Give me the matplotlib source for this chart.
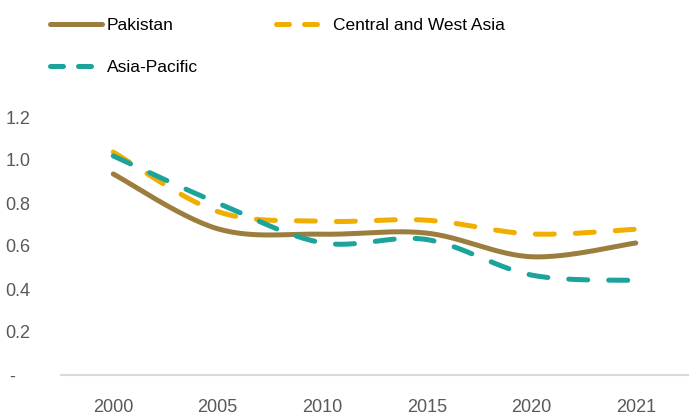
import numpy as np
import matplotlib
matplotlib.use("Agg")
import matplotlib.pyplot as plt
from matplotlib.lines import Line2D

years = ["2000", "2005", "2010", "2015", "2020", "2021"]
pakistan = [0.935, 0.68, 0.655, 0.66, 0.55, 0.614]
central_west_asia = [1.037, 0.76, 0.715, 0.72, 0.656, 0.678]
asia_pacific = [1.019, 0.80, 0.615, 0.63, 0.465, 0.44]

series = [
    ("Pakistan", pakistan, "#9B7E3E", "solid"),
    ("Central and West Asia", central_west_asia, "#F0AE00", "dashed"),
    ("Asia-Pacific", asia_pacific, "#1BA39C", "dashed"),
]


def smooth(x, y, n=30):
    # bezier smoothing like Excel's "smoothed line"
    x = np.asarray(x, float)
    y = np.asarray(y, float)
    px = np.concatenate([[x[0]], x, [x[-1]]])
    py = np.concatenate([[y[0]], y, [y[-1]]])
    xs, ys = [], []
    t = np.linspace(0, 1, n)
    for i in range(1, len(px) - 2):
        p0 = np.array([px[i], py[i]])
        p3 = np.array([px[i + 1], py[i + 1]])
        c1 = p0 + (np.array([px[i + 1], py[i + 1]]) - np.array([px[i - 1], py[i - 1]])) / 6
        c2 = p3 - (np.array([px[i + 2], py[i + 2]]) - p0) / 6
        b = ((1 - t) ** 3)[:, None] * p0 + (3 * (1 - t) ** 2 * t)[:, None] * c1 \
            + (3 * (1 - t) * t ** 2)[:, None] * c2 + (t ** 3)[:, None] * p3
        xs.extend(b[:, 0])
        ys.extend(b[:, 1])
    return np.array(xs), np.array(ys)


fig = plt.figure(figsize=(6.92, 4.16), dpi=100)
ax = fig.add_axes([61 / 692, 1 - 375 / 416, 627 / 692, 258 / 416])

x = np.arange(len(years))
handles = {}
for name, vals, color, style in series:
    sx, sy = smooth(x, vals)
    if style == "solid":
        ax.plot(sx, sy, color=color, lw=3.6, solid_capstyle="round")
        h = Line2D([], [], color=color, lw=3.6, solid_capstyle="round")
    else:
        ax.plot(sx, sy, color=color, lw=3.6, dashes=(3.8, 4.2), dash_capstyle="round")
        h = Line2D([], [], color=color, lw=3.6, dashes=(2.6, 3.0), dash_capstyle="round")
    handles[name] = h

ax.set_xlim(-0.5, len(years) - 0.5)
ax.set_ylim(0, 1.2)
ax.set_xticks(x)
ax.set_xticklabels(years)
ax.set_yticks([0, 0.2, 0.4, 0.6, 0.8, 1.0, 1.2])
ax.set_yticklabels(["-   ", "0.2", "0.4", "0.6", "0.8", "1.0", "1.2"])
for s in ["top", "right", "left"]:
    ax.spines[s].set_visible(False)
ax.spines["bottom"].set_color("#D9D9D9")
ax.spines["bottom"].set_linewidth(1.5)
ax.tick_params(axis="both", length=0, colors="#595959", labelsize=13)
ax.tick_params(axis="x", pad=17)
ax.tick_params(axis="y", pad=22)
for lab in ax.get_xticklabels() + ax.get_yticklabels():
    lab.set_fontfamily(["Liberation Sans", "DejaVu Sans"])

# column-wise fill: Pakistan / Asia-Pacific in column 1, Central in column 2
order = ["Pakistan", "Asia-Pacific", "Central and West Asia"]
fig.legend([handles[n] for n in order], order, ncol=2,
           loc="upper left", bbox_to_anchor=(34 / 692, 1 - 2 / 416),
           frameon=False, handlelength=3.0, columnspacing=4.5, handletextpad=0.3,
           labelspacing=1.55,
           prop={"family": ["Liberation Sans Narrow", "Liberation Sans"], "size": 12.5})

fig.savefig("out.png", dpi=100)
